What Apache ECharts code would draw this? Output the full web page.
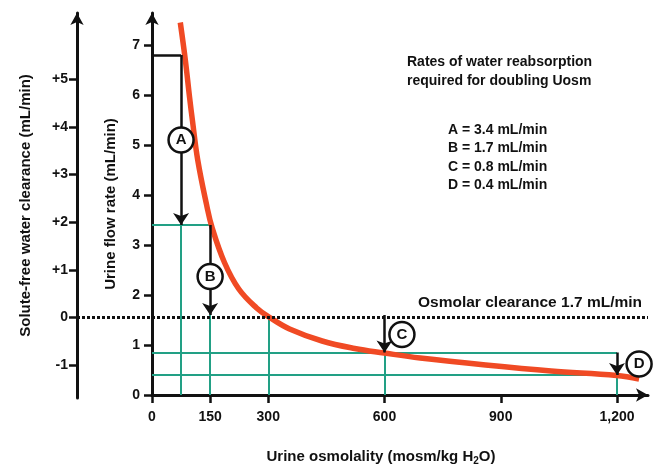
<!DOCTYPE html>
<html>
<head>
<meta charset="utf-8">
<script src="https://cdn.jsdelivr.net/npm/echarts@6/dist/echarts.min.js"></script>
<style>
  html, body { margin: 0; padding: 0; background: #fff; }
  #main { width: 663px; height: 471px; }
</style>
</head>
<body>
<div id="main"></div>
<script>
// curve: urine osmolality vs urine flow rate
var curveOsm  = [73, 86, 97, 105, 118, 141, 155, 187, 224, 270, 302, 355, 439, 523, 599, 692, 861, 1030, 1199, 1257];
var curveFlow = [7.45, 6.7, 5.95, 5.45, 4.7, 3.8, 3.35, 2.65, 2.12, 1.74, 1.56, 1.32, 1.08, 0.93, 0.84, 0.74, 0.6, 0.48, 0.39, 0.32];

// doubling steps A-D
var stepLabels = ['A', 'B', 'C', 'D'];
var stepRates  = [3.4, 1.7, 0.8, 0.4];
var stepOsm    = [75, 150, 600, 1200];
var stepFrom   = [6.8, 3.4, 1.6, 0.85];
var stepTo     = [3.4, 1.6, 0.85, 0.4];
var badgeOsm   = [75, 150, 645, 1257];
var badgeFlow  = [5.1, 2.37, 1.21, 0.62];

// green guide lines
var guideFlow    = [3.4, 0.85, 0.4];
var guideFlowEnd = [150, 1200, 1200];
var guideOsm     = [75, 150, 300, 600, 1200];
var guideOsmTop  = [3.4, 1.6, 1.6, 0.85, 0.4];

var xTicks  = [0, 150, 300, 600, 900, 1200];
var yTicks  = [0, 1, 2, 3, 4, 5, 6, 7];
var cfTicks = [-1, 0, 1, 2, 3, 4, 5];

var osmolarClearance = 1.6;   // flow level where free water clearance is 0
var cfScale = 1.059;          // free-water units per flow unit on the outer axis
var yMax = 7.64;

var font = "'Liberation Sans', Arial, sans-serif";
var ink = '#111';
var green = '#22a085';

var chartDom = document.getElementById('main');
var myChart = echarts.init(chartDom);

var curveData = curveOsm.map(function (x, i) { return [x, curveFlow[i]]; });

var guideLines = [];
guideFlow.forEach(function (y, i) {
    guideLines.push({ coords: [[0, y], [guideFlowEnd[i], y]] });
});
guideOsm.forEach(function (x, i) {
    guideLines.push({ coords: [[x, 0], [x, guideOsmTop[i]]] });
});

var arrowLines = stepOsm.map(function (x, i) {
    return { coords: [[x, stepFrom[i]], [x, stepTo[i]]] };
});
var capLine = [{ coords: [[0, stepFrom[0]], [stepOsm[0], stepFrom[0]]] }];

var badges = badgeOsm.map(function (x, i) {
    return { value: [x, badgeFlow[i]], name: stepLabels[i] };
});

var rateText = stepLabels.map(function (l, i) {
    return l + ' = ' + stepRates[i] + ' mL/min';
}).join('\n');

var axisText = { color: ink, fontFamily: font, fontWeight: 'bold', fontSize: 14 };

var option = {
    backgroundColor: '#fff',
    animation: false,
    title: [{
        text: 'Rates of water reabsorption\nrequired for doubling Uosm',
        left: 407, top: 53, padding: 0,
        textStyle: { color: ink, fontFamily: font, fontWeight: 'bold', fontSize: 14, lineHeight: 19 }
    }, {
        text: rateText,
        left: 448, top: 121, padding: 0,
        textStyle: { color: ink, fontFamily: font, fontWeight: 'bold', fontSize: 14, lineHeight: 18.3 }
    }],
    grid: [
        { left: 152, right: 15, top: 13, bottom: 73 },
        { left: 77, right: 15, top: 13, bottom: 73 }
    ],
    xAxis: [{
        gridIndex: 0,
        type: 'value', min: 0, max: 1280,
        name: 'Urine osmolality (mosm/kg H{sub|2}O)',
        nameLocation: 'middle', nameGap: 53,
        nameTextStyle: {
            color: ink, fontFamily: font, fontWeight: 'bold', fontSize: 15, padding: [0, 38, 0, 0],
            rich: { sub: { fontFamily: font, fontWeight: 'bold', fontSize: 10, verticalAlign: 'bottom', padding: [8, 0, 0, 0] } }
        },
        axisLine: { show: true, onZero: false, lineStyle: { color: ink, width: 3 }, symbol: ['none', 'arrow'], symbolSize: [10, 12] },
        axisTick: { show: true, length: 8, lineStyle: { color: ink, width: 2.5 }, customValues: xTicks },
        axisLabel: Object.assign({ margin: 15, customValues: xTicks, formatter: function (v) { return v >= 1000 ? (v / 1000 | 0) + ',' + String(v % 1000).padStart(3, '0') : String(v); } }, axisText),
        splitLine: { show: false }
    }, {
        gridIndex: 1,
        type: 'value', min: 0, max: 1, show: false
    }],
    yAxis: [{
        gridIndex: 0,
        type: 'value', min: 0, max: yMax,
        name: 'Urine flow rate (mL/min)',
        nameLocation: 'middle', nameGap: 34,
        nameTextStyle: { color: ink, fontFamily: font, fontWeight: 'bold', fontSize: 15 },
        axisLine: { show: true, onZero: false, lineStyle: { color: ink, width: 3 }, symbol: ['none', 'arrow'], symbolSize: [10, 12] },
        axisTick: { show: true, length: 8, lineStyle: { color: ink, width: 2.5 }, customValues: yTicks },
        axisLabel: Object.assign({ margin: 12, customValues: yTicks }, axisText),
        splitLine: { show: false }
    }, {
        gridIndex: 1,
        type: 'value',
        min: -osmolarClearance * cfScale,
        max: (yMax - osmolarClearance) * cfScale,
        name: 'Solute-free water clearance (mL/min)',
        nameLocation: 'middle', nameGap: 44,
        nameTextStyle: { color: ink, fontFamily: font, fontWeight: 'bold', fontSize: 15 },
        axisLine: { show: true, onZero: false, lineStyle: { color: ink, width: 3 }, symbol: ['none', 'arrow'], symbolSize: [10, 12] },
        axisTick: { show: true, length: 8, lineStyle: { color: ink, width: 2.5 }, customValues: cfTicks },
        axisLabel: Object.assign({ margin: 9, customValues: cfTicks, formatter: function (v) { return v > 0 ? '+' + v : String(v); } }, axisText),
        splitLine: { show: false }
    }],
    series: [{
        // osmolar clearance line = zero of free water clearance
        type: 'line',
        xAxisIndex: 1, yAxisIndex: 1,
        data: [],
        markLine: {
            silent: true,
            symbol: ['none', 'none'],
            lineStyle: { color: ink, type: [3, 2], width: 3 },
            label: {
                show: true, position: 'insideEndTop', distance: [6, 7],
                formatter: 'Osmolar clearance 1.7 mL/min',
                color: ink, fontFamily: font, fontWeight: 'bold', fontSize: 15.5
            },
            data: [{ yAxis: 0 }]
        }
    }, {
        type: 'lines',
        coordinateSystem: 'cartesian2d',
        xAxisIndex: 0, yAxisIndex: 0,
        z: 2,
        lineStyle: { color: green, width: 2, opacity: 1 },
        data: guideLines
    }, {
        type: 'line',
        xAxisIndex: 0, yAxisIndex: 0,
        z: 3,
        smooth: 0.4,
        showSymbol: false,
        lineStyle: { color: '#f04a24', width: 5.5 },
        data: curveData
    }, {
        type: 'lines',
        coordinateSystem: 'cartesian2d',
        z: 4,
        lineStyle: { color: ink, width: 2.5, opacity: 1 },
        data: capLine
    }, {
        type: 'lines',
        coordinateSystem: 'cartesian2d',
        z: 4,
        symbol: ['none', 'arrow'],
        symbolSize: 12,
        lineStyle: { color: ink, width: 2.5, opacity: 1 },
        data: arrowLines
    }, {
        type: 'scatter',
        z: 5,
        symbol: 'circle',
        symbolSize: 25,
        itemStyle: { color: '#fff', borderColor: ink, borderWidth: 2.5, opacity: 1 },
        label: {
            show: true, position: 'inside', formatter: '{b}',
            color: ink, fontFamily: font, fontWeight: 'bold', fontSize: 15
        },
        data: badges
    }]
};

myChart.setOption(option);
</script>
</body>
</html>
